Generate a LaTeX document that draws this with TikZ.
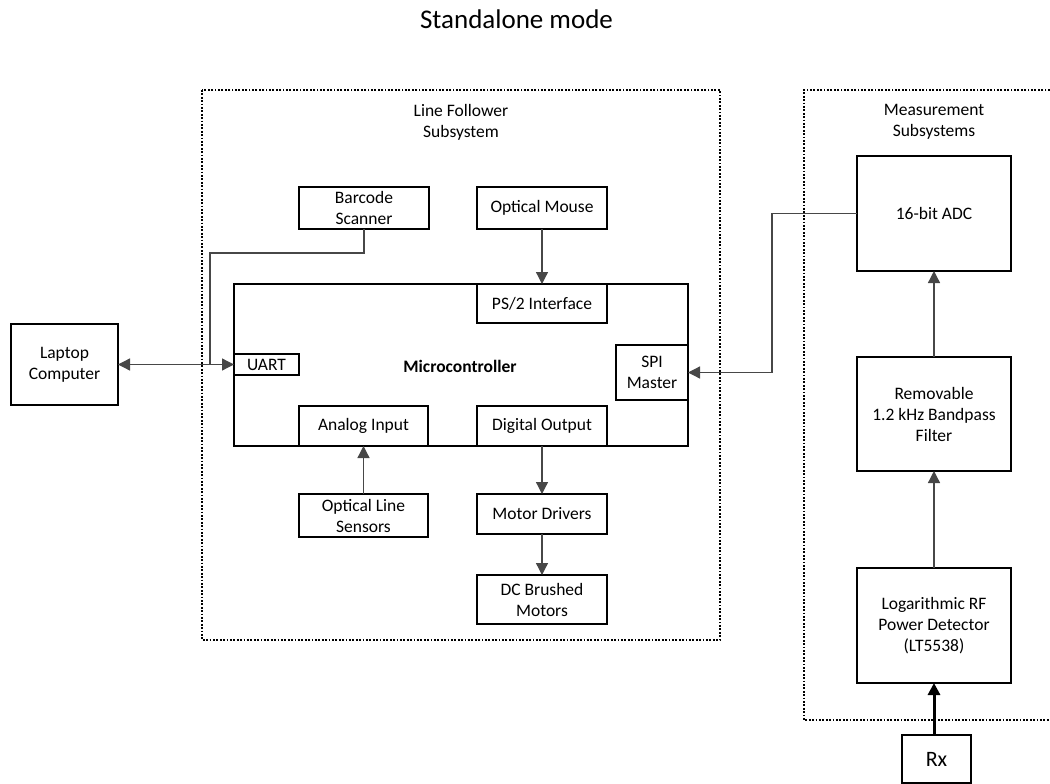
\documentclass[tikz,border=0pt]{standalone}
\usepackage{fontspec}
\setmainfont{Carlito}
\usetikzlibrary{arrows.meta}
\begin{document}
\begin{tikzpicture}[x=1pt,y=-1pt,
  txt/.style={font=\fontsize{17.5}{21}\selectfont, align=center, inner sep=0pt},
  blk/.style={txt, draw=black, line width=1.4pt, outer sep=0pt},
  link/.style={draw=black!72, line width=1.3pt},
  tip/.tip={Triangle[length=12pt,width=12pt]},
  arr/.style={link, -tip},
  grp/.style={draw=black, line width=1.6pt, dash pattern=on 1.8pt off 1.6pt}
]
\useasboundingbox (0,0) rectangle (1050,784);

% title
\node[font=\fontsize{27}{32}\selectfont, anchor=base, inner sep=0pt] (title) at (516.5,29) {Standalone mode};

% subsystem groups
\draw[grp] (202,90) rectangle (720,640);
\draw[grp] (1060,90) -- (804,90) -- (804,720) -- (1060,720);
\node[txt] (lfs) at (461,122.5) {Line Follower\\Subsystem};
\node[txt] (mss) at (934,121.5) {Measurement\\Subsystems};

% line follower blocks
\node[blk, minimum width=107, minimum height=81] (laptop) at (64.5,364.5) {Laptop\\Computer};
\node[blk, minimum width=130, minimum height=42] (barcode) at (364,208) {Barcode\\Scanner};
\node[blk, minimum width=130, minimum height=42] (mouse) at (542,208) {Optical Mouse};
\node[blk, minimum width=454, minimum height=162] (mcu) at (461,365) {};
\node[txt, font=\fontsize{17.5}{21}\selectfont\bfseries] (mcutxt) at (460,366) {Microcontroller};
\node[blk, minimum width=130, minimum height=39] (ps2) at (542,303.5) {PS/2 Interface};
\node[blk, minimum width=65, minimum height=21] (uart) at (266.5,364.5) {UART};
\node[blk, minimum width=72, minimum height=55] (spi) at (652,372.5) {SPI\\Master};
\node[blk, minimum width=129, minimum height=40] (ain) at (363.5,426) {Analog Input};
\node[blk, minimum width=130, minimum height=40] (dout) at (542,426) {Digital Output};
\node[blk, minimum width=129, minimum height=43] (ols) at (363.5,515.5) {Optical Line\\Sensors};
\node[blk, minimum width=130, minimum height=40] (mdrv) at (542,514) {Motor Drivers};
\node[blk, minimum width=130, minimum height=49] (dcm) at (542,599.5) {DC Brushed\\Motors};

% measurement blocks
\node[blk, minimum width=154, minimum height=115] (adc) at (934,213.5) {16-bit ADC};
\node[blk, minimum width=154, minimum height=114] (filt) at (934,414) {Removable\\1.2 kHz Bandpass\\Filter};
\node[blk, minimum width=154, minimum height=115] (det) at (934,625.5) {Logarithmic RF\\Power Detector\\(LT5538)};
\node[blk, font=\fontsize{22}{26}\selectfont, minimum width=69, minimum height=48] (rx) at (936.5,759) {Rx};

% connectors
\coordinate (bj) at (210,364.5);
\draw[link] (barcode.south) -- ++(0,24) -| (bj);
\draw[link, tip-tip] (laptop.east) -- (uart.west);
\draw[arr] (mouse.south) -- (ps2.north);
\draw[arr] (ols.north) -- (ain.south);
\draw[arr] (dout.south) -- (mdrv.north);
\draw[arr] (mdrv.south) -- (dcm.north);
\draw[arr] (adc.west) -- ++(-85,0) |- (spi.east);
\draw[arr] (filt.north) -- (adc.south);
\draw[arr] (det.north) -- (filt.south);
\draw[arr, draw=black, line width=3pt] (rx.north -| det.south) -- (det.south);
\end{tikzpicture}
\end{document}
